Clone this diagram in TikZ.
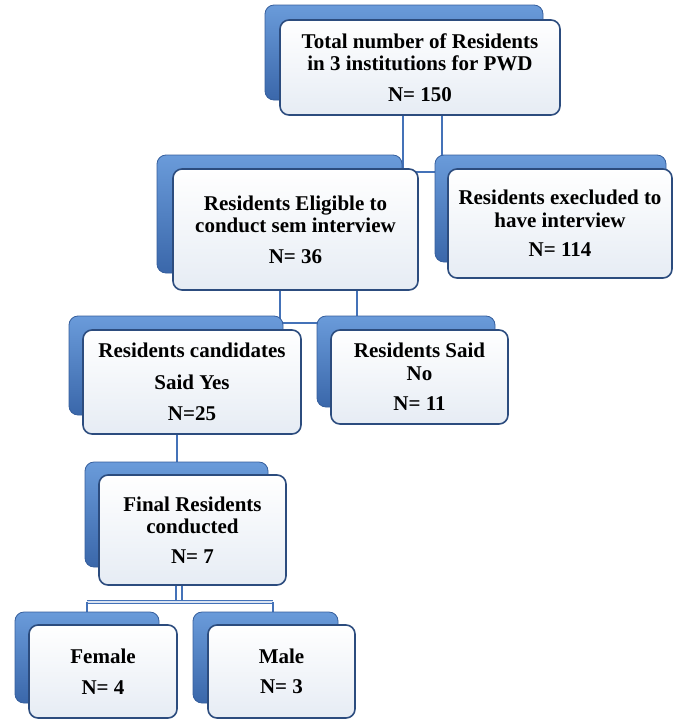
\documentclass[tikz,border=0pt]{standalone}
\usepackage{fontspec}
\setmainfont{Liberation Serif}
\definecolor{bkTop}{HTML}{6A9BDA}
\definecolor{bkBot}{HTML}{3A67AA}
\definecolor{bkLine}{HTML}{355E9C}
\definecolor{frLine}{HTML}{2C4C7E}
\definecolor{frBot}{HTML}{E6ECF4}
\definecolor{connC}{HTML}{4472B8}
\tikzset{
  backbox/.style={draw=bkLine, line width=0.8pt, top color=bkTop, bottom color=bkBot,
    rounded corners=9pt, inner sep=0pt, minimum width=#1},
  frontbox/.style={draw=frLine, line width=1.6pt, top color=white, bottom color=frBot,
    rounded corners=9pt, inner sep=0pt, align=center, text=black,
    font=\fontsize{21}{22.5}\selectfont\bfseries, minimum width=#1},
  conn/.style={draw=connC, line width=1.8pt}
}
\begin{document}
\begin{tikzpicture}[x=1pt,y=-1pt]
\useasboundingbox (0,0) rectangle (674,721);
% junction coordinates
\coordinate (j1a) at (403,172);
\coordinate (j1b) at (442,172);
\coordinate (j2a) at (280,323);
\coordinate (j2b) at (357,323);
\coordinate (j4a) at (176,602);
\coordinate (j4b) at (182,602);
\coordinate (j4l) at (87,602);
\coordinate (j4r) at (273,602);
\coordinate (t1bot) at (403,110);
\coordinate (t1bot2) at (442,110);
\coordinate (t2bot) at (280,285);
\coordinate (t2bot2) at (357,285);
\coordinate (t3in) at (450,172);
\coordinate (t5in) at (322,323);
\coordinate (t4bot) at (177,430);
\coordinate (t6top) at (177,466);
\coordinate (t6bot) at (176,580);
\coordinate (t6bot2) at (182,580);
\coordinate (t7top) at (87,616);
\coordinate (t8top) at (273,616);
% connectors (drawn first, behind boxes)
\draw[conn] (t1bot) -- (j1a) -- (t3in);
\draw[conn] (t1bot2) -- (j1b);
\draw[conn] (t2bot) -- (j2a) -- (t5in);
\draw[conn] (t2bot2) -- (j2b);
\draw[conn] (t4bot) -- (t6top);
\draw[conn, line width=1.2pt] (t6bot) -- (j4a);
\draw[conn, line width=1.2pt] (t6bot2) -- (j4b);
\draw[conn, double=white!80!connC, double distance=1.6pt, line width=1pt] (j4l) -- (j4r);
\draw[conn] (j4l) -- (t7top);
\draw[conn] (j4r) -- (t8top);
% box 1
\node[backbox=278pt, minimum height=95pt] (t1b) at (404,52.5) {};
\node[frontbox=280pt, minimum height=95pt] (t1) at (420,67.5) {Total number of Residents\\in 3 institutions for PWD\\[8pt]N= 150};
% box 2
\node[backbox=245pt, minimum height=118pt] (t2b) at (279.5,214) {};
\node[frontbox=245pt, minimum height=121pt] (t2) at (295.5,229.5) {Residents Eligible to\\conduct sem interview\\[8pt]N= 36};
% box 3
\node[backbox=231pt, minimum height=107pt] (t3b) at (550.5,208.5) {};
\node[frontbox=224pt, minimum height=109pt] (t3) at (560,223.5) {Residents execluded to\\have interview\\[7pt]N= 114};
% box 4
\node[backbox=214pt, minimum height=99pt] (t4b) at (176,365.5) {};
\node[frontbox=218pt, minimum height=104pt] (t4) at (192,382) {Residents candidates\\[9pt]Said Yes\\[9pt]N=25};
% box 5
\node[backbox=178pt, minimum height=91pt] (t5b) at (406,361.5) {};
\node[frontbox=177pt, minimum height=94pt] (t5) at (419.5,377) {Residents Said\\No\\[8pt]N= 11};
% box 6
\node[backbox=183pt, minimum height=105pt] (t6b) at (176.5,514.5) {};
\node[frontbox=187pt, minimum height=110pt] (t6) at (192.5,530) {Final Residents\\conducted\\[7pt]N= 7};
% box 7
\node[backbox=144pt, minimum height=91pt] (t7b) at (87,657.5) {};
\node[frontbox=148pt, minimum height=93pt] (t7) at (103,671.5) {Female\\[8pt]N= 4};
% box 8
\node[backbox=145pt, minimum height=91pt] (t8b) at (265.5,657.5) {};
\node[frontbox=147pt, minimum height=93pt] (t8) at (281.5,671.5) {Male\\[8pt]N= 3};
\end{tikzpicture}
\end{document}
